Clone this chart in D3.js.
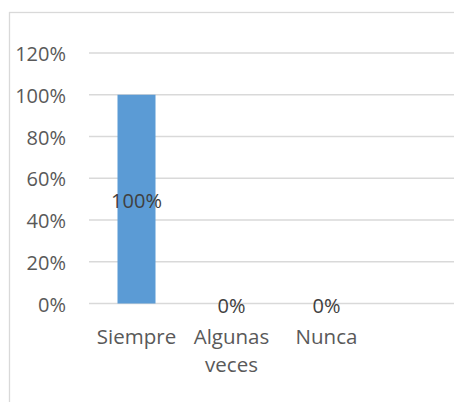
<!DOCTYPE html>
<html lang="es">
<head>
	<meta charset="utf-8">
	<title>Frecuencia</title>
	<script type="text/javascript" src="https://cdn.jsdelivr.net/npm/d3@7/dist/d3.min.js"></script>
<style>
	body {
		margin: 0;
		background: white;
		font-family: "Open Sans", sans-serif;
	}
	#chart {
		width: 454px;
		height: 402px;
	}
	.tick-label { fill: #595959; font-size: 20px; }
	.cat-label { fill: #595959; font-size: 20.5px; }
	.data-label { fill: #404040; font-size: 20px; }
</style>
</head>
<body>
<div id="chart"></div>
<script type="text/javascript">

//chart values
var categories = [["Siempre"], ["Algunas", "veces"], ["Nunca"]]
var values = [1.0, 0, 0]
var yTicks = [0, 0.2, 0.4, 0.6, 0.8, 1.0, 1.2]

var W = 454, H = 402
var plotLeft = 89, plotTop = 53, plotBottom = 303.5

var svg = d3.select("#chart").append("svg")
	.attr("width", W)
	.attr("height", H)

//outer chart border (right and bottom are cut off in the picture)
svg.append("rect")
	.attr("x", 9.5).attr("y", 12.5)
	.attr("width", W + 10).attr("height", H + 10)
	.style("fill", "white")
	.style("stroke", "#d9d9d9")
	.style("stroke-width", 1.3)

var x = d3.scaleBand()
	.domain(d3.range(categories.length))
	.range([plotLeft, plotLeft + 285])
	.paddingInner(0.6)
	.paddingOuter(0.3)

var y = d3.scaleLinear()
	.domain([0, 1.2])
	.range([plotBottom, plotTop])

var fmt = d3.format(".0%")

//gridlines
svg.selectAll(".grid").data(yTicks)
	.enter().append("line")
	.attr("class", "grid")
	.attr("x1", plotLeft).attr("x2", W)
	.attr("y1", function(d) { return y(d) })
	.attr("y2", function(d) { return y(d) })
	.style("stroke", "#d9d9d9")
	.style("stroke-width", 1.3)

//y tick labels
svg.selectAll(".tick-label").data(yTicks)
	.enter().append("text")
	.attr("class", "tick-label")
	.attr("x", 66)
	.attr("y", function(d) { return y(d) + 1 })
	.attr("dy", "0.35em")
	.attr("text-anchor", "end")
	.text(function(d) { return fmt(d) })

//bars
svg.selectAll(".bar").data(values)
	.enter().append("rect")
	.attr("class", "bar")
	.attr("x", function(d, i) { return x(i) })
	.attr("width", x.bandwidth())
	.attr("y", function(d) { return y(d) })
	.attr("height", function(d) { return y(0) - y(d) })
	.style("fill", "#5b9bd5")

//data labels, centred on the bar
svg.selectAll(".data-label").data(values)
	.enter().append("text")
	.attr("class", "data-label")
	.attr("x", function(d, i) { return x(i) + x.bandwidth() / 2 })
	.attr("y", function(d) { return (y(d) + y(0)) / 2 + 2 })
	.attr("dy", "0.35em")
	.attr("text-anchor", "middle")
	.text(function(d) { return fmt(d) })

//category labels
svg.selectAll(".cat-label").data(categories)
	.enter().append("text")
	.attr("class", "cat-label")
	.attr("text-anchor", "middle")
	.attr("x", function(d, i) { return x(i) + x.bandwidth() / 2 })
	.attr("y", 337)
	.each(function(lines) {
		var t = d3.select(this)
		var cx = t.attr("x")
		lines.forEach(function(s, k) {
			t.append("tspan")
				.attr("x", cx)
				.attr("dy", k == 0 ? "0.35em" : "28px")
				.text(s)
		})
	})

</script>
</body>
</html>
